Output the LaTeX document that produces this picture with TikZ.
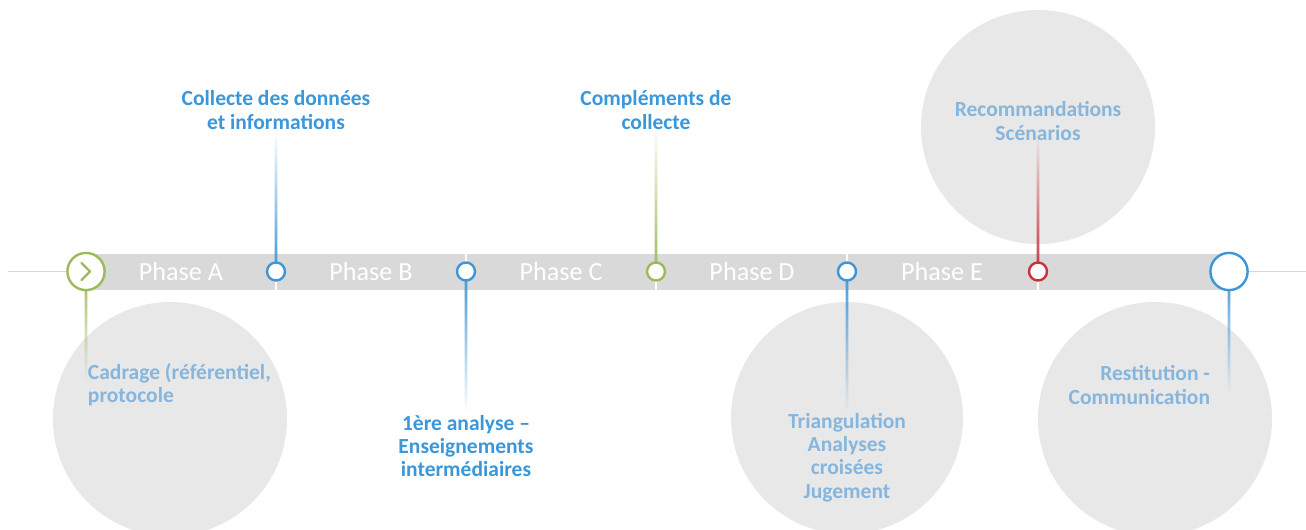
\documentclass[tikz,border=0pt]{standalone}
\usepackage{fontspec}
\setmainfont{Carlito}
\usetikzlibrary{calc,fadings}

\definecolor{stepblue}{HTML}{3D96D8}
\definecolor{stepgreen}{HTML}{9BBB59}
\definecolor{stepred}{HTML}{C8323C}
\definecolor{bargray}{HTML}{D9D9D9}
\definecolor{bubblegray}{HTML}{E8E8E8}
\definecolor{labelblue}{HTML}{3A97D9}
\definecolor{softblue}{HTML}{86B6DD}

\tikzfading[name=stemnorth, bottom color=transparent!0, middle color=transparent!20, top color=transparent!100]
\tikzfading[name=stemsouth, top color=transparent!0, middle color=transparent!20, bottom color=transparent!100]

\tikzset{
  marker/.style={circle, fill=white, line width=0.06cm, minimum size=0.45cm, inner sep=0pt},
  bigmarker/.style={marker, minimum size=0.93cm},
  phaselabel/.style={text=white, font=\fontsize{18.6}{20}\selectfont},
  toplabel/.style={text=labelblue, font=\fontsize{15.3}{16.6}\selectfont\bfseries, align=center},
  softlabel/.style={text=softblue, font=\fontsize{15.3}{16.6}\selectfont\bfseries, align=center}
}

% stem of a step: #1 point, #2 colour, #3 fading, #4 length (up is negative)
\newcommand{\stemline}[4]{%
  \begin{scope}
    \clip ($(#1)+(-1.3,0)$) rectangle ($(#1)+(1.3,#4)$);
    \fill[#2, path fading=#3] ($(#1)+(-20,0)$) rectangle ($(#1)+(20,#4)$);
  \end{scope}}

\begin{document}
\begin{tikzpicture}[x=0.025cm,y=-0.025cm]
\useasboundingbox (0,0) rectangle (1306,529);
\fill[white] (0,0) rectangle (1306,529);

% grey bubbles
\fill[bubblegray] (170,419) circle (117);
\fill[bubblegray] (847,418) circle (116);
\fill[bubblegray] (1038,127) circle (117);
\fill[bubblegray] (1155,419) circle (117);

% axis and band
\draw[bargray, line width=0.04cm] (8,271.5) -- (1306,271.5);
\fill[bargray] (86,254) rectangle (1229,290);

% marker positions
\coordinate (pA) at (86,271.5);
\coordinate (pB) at (276,271.5);
\coordinate (pC) at (466,271.5);
\coordinate (pD) at (656,271.5);
\coordinate (pE) at (847,271.5);
\coordinate (pF) at (1038,271.5);
\coordinate (pG) at (1229,271.5);

% white ticks through the band
\draw[white, line width=0.04cm] ($(pB)+(0,-17.5)$) -- ($(pB)+(0,18.5)$);
\draw[white, line width=0.04cm] ($(pC)+(0,-17.5)$) -- ($(pC)+(0,18.5)$);
\draw[white, line width=0.04cm] ($(pD)+(0,-17.5)$) -- ($(pD)+(0,18.5)$);
\draw[white, line width=0.04cm] ($(pE)+(0,-17.5)$) -- ($(pE)+(0,18.5)$);
\draw[white, line width=0.04cm] ($(pF)+(0,-17.5)$) -- ($(pF)+(0,18.5)$);

% stems
\stemline{pA}{stepgreen}{stemsouth}{110}
\stemline{pB}{stepblue}{stemnorth}{-140}
\stemline{pC}{stepblue}{stemsouth}{140}
\stemline{pD}{stepgreen}{stemnorth}{-143}
\stemline{pE}{stepblue}{stemsouth}{140}
\stemline{pF}{stepred}{stemnorth}{-135}
\stemline{pG}{stepblue}{stemsouth}{120}

% markers
\node[bigmarker, draw=stepgreen] (mA) at (pA) {};
\draw[stepgreen, line width=0.06cm, line cap=round, line join=round]
  ($(mA)+(-4.5,-8.5)$) -- ($(mA)+(4,0)$) -- ($(mA)+(-4.5,8.5)$);
\node[marker, draw=stepblue] (mB) at (pB) {};
\node[marker, draw=stepblue] (mC) at (pC) {};
\node[marker, draw=stepgreen] (mD) at (pD) {};
\node[marker, draw=stepblue] (mE) at (pE) {};
\node[marker, draw=stepred] (mF) at (pF) {};
\node[bigmarker, draw=stepblue] (mG) at (pG) {};

% phase names
\node[phaselabel] (phA) at (181,271.5) {Phase A};
\node[phaselabel] (phB) at (371,271.5) {Phase B};
\node[phaselabel] (phC) at (561,271.5) {Phase C};
\node[phaselabel] (phD) at (752,271.5) {Phase D};
\node[phaselabel] (phE) at (942,271.5) {Phase E};

% step texts
\node[toplabel] (tB) at (276,110) {Collecte des données\\et informations};
\node[toplabel] (tD) at (656,110) {Compléments de\\collecte};
\node[toplabel] (tC) at (466,446) {1ère analyse –\\Enseignements\\intermédiaires};
\node[softlabel, align=left, anchor=west] (tA) at (83,385) {Cadrage (référentiel,\\protocole};
\node[softlabel] (tE) at (847,457.5) {Triangulation\\Analyses\\croisées\\Jugement};
\node[softlabel] (tF) at (1038,121) {Recommandations\\Scénarios};
\node[softlabel, align=right, anchor=east] (tG) at (1215,385) {Restitution -\\Communication};
\end{tikzpicture}
\end{document}
